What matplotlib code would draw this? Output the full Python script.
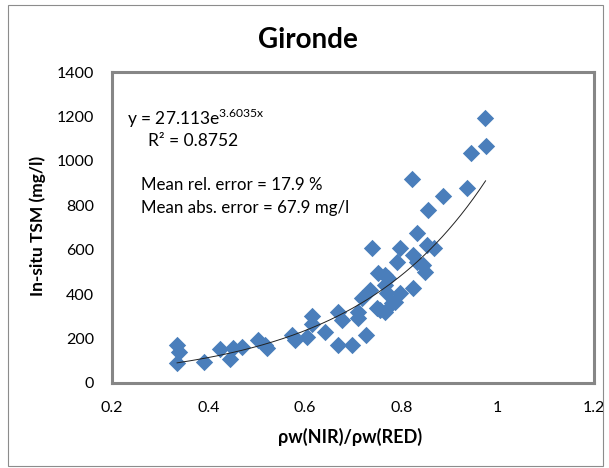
import numpy as np
import matplotlib
matplotlib.use("Agg")
import matplotlib.pyplot as plt
from matplotlib.patches import Rectangle

plt.rcParams['font.family'] = ['Lato', 'DejaVu Sans']

# measured points: reflectance ratio vs in-situ TSM
ratio = [0.335, 0.339, 0.335, 0.391, 0.424, 0.445, 0.451, 0.469, 0.503, 0.521,
         0.518, 0.573, 0.579, 0.604, 0.615, 0.615, 0.641, 0.668, 0.697, 0.728,
         0.668, 0.677, 0.710, 0.710, 0.718, 0.735, 0.749, 0.766, 0.780, 0.797,
         0.770, 0.766, 0.751, 0.766, 0.772, 0.739, 0.797, 0.791, 0.824, 0.832,
         0.845, 0.849, 0.824, 0.853, 0.869, 0.832, 0.973, 0.975, 0.944, 0.936,
         0.886, 0.855, 0.822, 0.757, 0.787]
tsm = [171, 140, 90, 95, 153, 108, 158, 162, 194, 158,
       172, 216, 194, 207, 302, 266, 230, 171, 171, 216,
       320, 284, 320, 293, 383, 419, 338, 320, 360, 405,
       405, 441, 495, 486, 473, 608, 608, 545, 576, 545,
       531, 500, 428, 621, 608, 675, 1193, 1067, 1035, 878,
       842, 779, 918, 330, 365]

# exponential fit y = a*exp(b*x)
fit_a = 27.113
fit_b = 3.6035

x_ticks = [0.2, 0.4, 0.6, 0.8, 1.0, 1.2]
x_tick_labels = ['0.2', '0.4', '0.6', '0.8', '1', '1.2']
y_ticks = [0, 200, 400, 600, 800, 1000, 1200, 1400]

W, H = 609, 468
fig = plt.figure(figsize=(W / 100, H / 100), dpi=100)
ax = fig.add_axes([112 / W, 1 - 383 / H, (594 - 112) / W, (383 - 72) / H])

ax.scatter(ratio, tsm, marker='D', s=78, color='#4A7EBB', linewidths=0, zorder=3)

xf = np.linspace(min(ratio), max(ratio), 200)
ax.plot(xf, fit_a * np.exp(fit_b * xf), color='#222222', lw=0.7, zorder=4)

ax.set_xlim(0.2, 1.2)
ax.set_ylim(0, 1400)
ax.set_xticks(x_ticks)
ax.set_xticklabels(x_tick_labels)
ax.set_yticks(y_ticks)
ax.tick_params(length=0, labelsize=11.5, pad=13, colors='black')
for s in ax.spines.values():
    s.set_color('#868686')
    s.set_linewidth(2.2)

fig.text(308 / W, 1 - 40 / H, 'Gironde', ha='center', va='center',
         fontsize=20, fontweight='bold')
fig.text(38 / W, 1 - 226 / H, 'In-situ TSM (mg/l)', rotation=90, ha='center',
         va='center', fontsize=12.5, fontweight='bold')
fig.text(350 / W, 1 - 437 / H, 'ρw(NIR)/ρw(RED)', ha='center', va='center',
         fontsize=13, fontweight='bold')

fig.text(127 / W, 1 - 118 / H, r'y = 27.113e$^{\mathregular{3.6035x}}$',
         ha='left', va='center', fontsize=12.5)
fig.text(148 / W, 1 - 141 / H, 'R² = 0.8752', ha='left', va='center', fontsize=12.5)
fig.text(141 / W, 1 - 185 / H, 'Mean rel. error = 17.9 %', ha='left', va='center',
         fontsize=12.2)
fig.text(141 / W, 1 - 208 / H, 'Mean abs. error = 67.9 mg/l', ha='left', va='center',
         fontsize=12.2)

# outer chart frame
fig.patches.append(Rectangle((8 / W, 1 - 466 / H), (603 - 8) / W, (466 - 5) / H,
                             transform=fig.transFigure, fill=False,
                             edgecolor='#8C8C8C', linewidth=0.8))

fig.savefig('out.png', dpi=100)
